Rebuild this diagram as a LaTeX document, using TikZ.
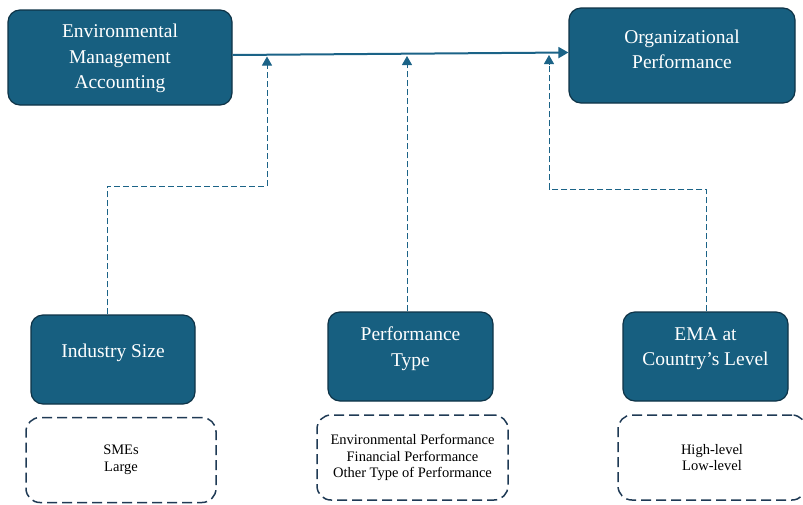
\documentclass[tikz,border=0pt]{standalone}
\usepackage{fontspec}
\setmainfont{Liberation Serif}
\usetikzlibrary{arrows.meta}
\definecolor{boxfill}{HTML}{175F80}
\definecolor{boxedge}{HTML}{0E3347}
\definecolor{linecol}{HTML}{1B6387}
\definecolor{dashcol}{HTML}{1F3A55}
\begin{document}
\begin{tikzpicture}[x=1pt,y=-1pt,
  mainbox/.style={draw=boxedge, line width=1.2pt, fill=boxfill, rounded corners=12pt, inner sep=0pt},
  boxtext/.style={text=white, align=center, font=\fontsize{19.5}{25.5}\selectfont, inner sep=0pt},
  listbox/.style={draw=dashcol, line width=1.5pt, dash pattern=on 10pt off 5pt,
    rounded corners=14pt, align=center, font=\fontsize{14.5}{16.5}\selectfont, inner sep=0pt},
  conn/.style={draw=linecol, line width=1pt, dash pattern=on 6pt off 3pt},
  tipup/.style={-{Triangle[length=9pt,width=10pt]}},
  mainarrow/.style={draw=linecol, line width=2pt, -{Triangle[length=10pt,width=11pt]}}
]
\useasboundingbox (0,0) rectangle (803,504);
% top boxes
\node[mainbox, minimum width=224pt, minimum height=95pt,
  label={[boxtext, yshift=-1pt]center:{Environmental\\Management\\Accounting}}] (ema) at (120,57.5) {};
\node[mainbox, minimum width=226pt, minimum height=95pt,
  label={[boxtext, yshift=6pt]center:{Organizational\\Performance}}] (op) at (682,55.5) {};
% bottom boxes
\node[mainbox, minimum width=164pt, minimum height=89pt,
  label={[boxtext, yshift=7pt]center:{Industry Size}}] (ind) at (113,359.5) {};
\node[mainbox, minimum width=165pt, minimum height=89pt,
  label={[boxtext, yshift=8pt]center:{Performance\\Type}}] (pt) at (410.5,356.5) {};
\node[mainbox, minimum width=165pt, minimum height=89pt,
  label={[boxtext, yshift=8pt]center:{EMA at\\Country’s Level}}] (ctry) at (705.5,356.5) {};
% dashed list boxes
\node[listbox, minimum width=190pt, minimum height=85pt] (l1) at (121,460) {SMEs\\Large};
\node[listbox, minimum width=191pt, minimum height=85pt] (l2) at (412.5,457.5) {Environmental Performance\\Financial Performance\\Other Type of Performance};
\node[listbox, minimum width=188pt, minimum height=85pt] (l3) at (712,457.5) {High-level\\Low-level};
% main arrow
\coordinate (mstart) at (ema.east |- 0,55);
\coordinate (mend) at (op.west |- 0,52.5);
\draw[mainarrow] (mstart) -- (mend);
% connector target points
\coordinate (t1) at (267,56.5);
\coordinate (t2) at (407,56);
\coordinate (t3) at (549,55);
\coordinate (b1) at (107.5,186);
\coordinate (b3) at (706,189);
% dashed connectors
\draw[conn] (ind.north -| b1) -- (b1) -- (b1 -| t1) -- ([yshift=-10pt]t1);
\draw[conn] (pt.north -| t2) -- ([yshift=-10pt]t2);
\draw[conn] (ctry.north -| b3) -- (b3) -- (b3 -| t3) -- ([yshift=-10pt]t3);
% arrow heads
\draw[linecol, line width=1pt, tipup] ([yshift=-10pt]t1) -- (t1);
\draw[linecol, line width=1pt, tipup] ([yshift=-10pt]t2) -- (t2);
\draw[linecol, line width=1pt, tipup] ([yshift=-10pt]t3) -- (t3);
\end{tikzpicture}
\end{document}
